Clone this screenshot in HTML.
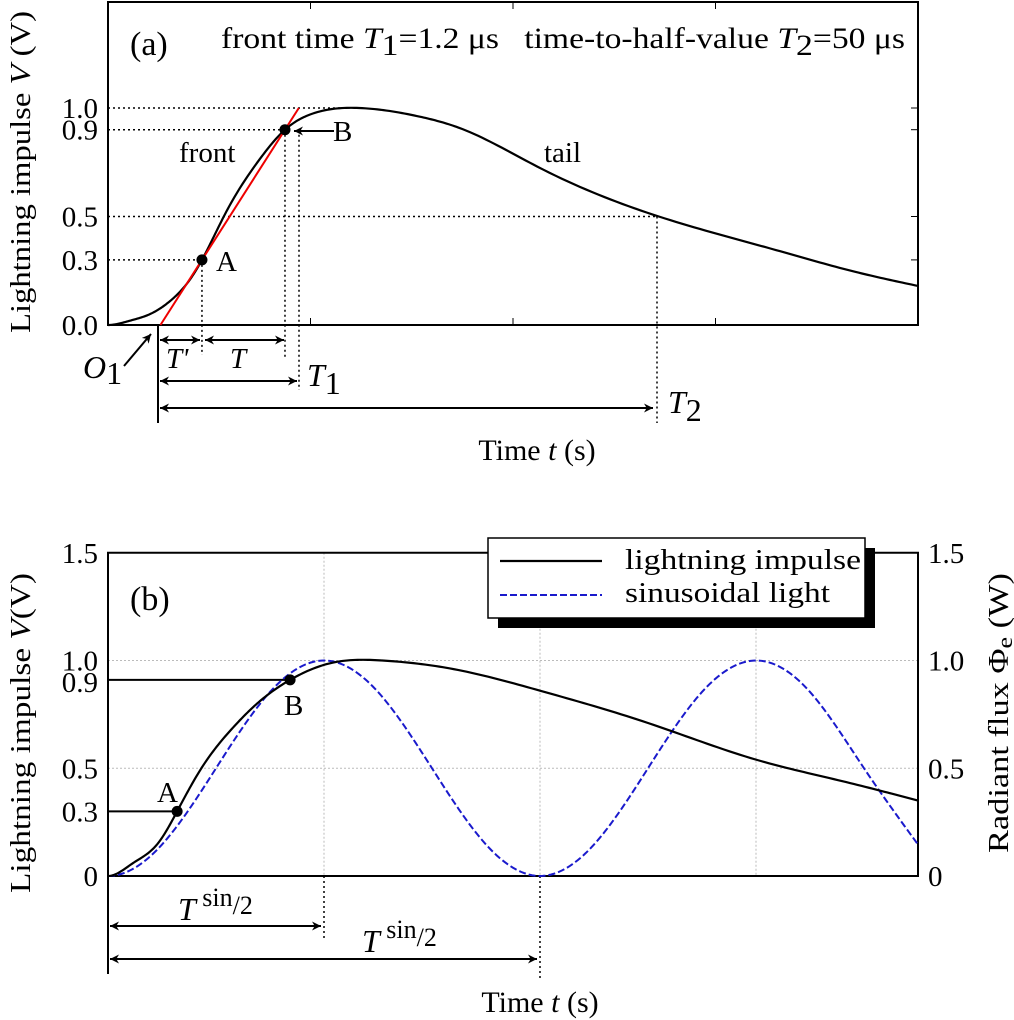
<!DOCTYPE html>
<html><head><meta charset="utf-8"><style>
html,body{margin:0;padding:0;background:#fff;}
svg{display:block;font-family:"Liberation Serif",serif;}
</style></head><body>
<svg id="fig" width="1014" height="1020" viewBox="0 0 1014 1020" xmlns="http://www.w3.org/2000/svg">
<defs>
<marker id="ah" viewBox="0 0 10 10" refX="10" refY="5" markerWidth="9" markerHeight="9" orient="auto-start-reverse" markerUnits="userSpaceOnUse"><path d="M0,0 L10,5 L0,10 L3,5 Z" fill="#000"/></marker>
</defs>
<g id="pa"></g>
<g id="pb"></g>
</svg>
<script>
// Panel (a) data
const aTime = [0,0.109,0.207,0.306,0.405,0.464,0.583,0.746,0.874,0.998,1.24,1.54,1.73,2.12,2.72,3.30,3.69,4.0];
const aVolt = [0,0.02,0.05,0.11,0.21,0.30,0.52,0.76,0.90,0.97,1.0,0.96,0.91,0.73,0.50,0.345,0.245,0.18];
const aIdxA = 5, aIdxB = 8;
const aTicksY = [0.0,0.3,0.5,0.9,1.0];
const aTickLabels = ["0.0","0.3","0.5","0.9","1.0"];
const aTicksX = [1,2,3];
// Panel (b) data
const bTime = [0,0.116,0.23,0.32,0.426,0.58,0.69,0.843,1.04,1.27,1.6,2.0,2.5,3.0,3.4,3.75];
const bVolt = [0,0.06,0.15,0.30,0.49,0.69,0.80,0.91,0.99,1.0,0.96,0.86,0.71,0.54,0.44,0.35];
const bIdxA = 3, bIdxB = 7;
const sinTime = [0,0.25,0.5,0.75,1,1.25,1.5,1.75,2,2.25,2.5,2.75,3,3.25,3.5,3.75];
const sinFlux = [0,0.146,0.5,0.854,1,0.854,0.5,0.146,0,0.146,0.5,0.854,1,0.854,0.5,0.146];
const bTicksY = [0,0.3,0.5,0.9,1.0,1.5];
const bTickLabels = ["0","0.3","0.5","0.9","1.0","1.5"];
const bRightTicks = [0,0.5,1.0,1.5];
const bRightLabels = ["0","0.5","1.0","1.5"];
const bGridX = [1,2,3];

const NS="http://www.w3.org/2000/svg";
function el(parent,tag,attrs,text){const e=document.createElementNS(NS,tag);for(const k in attrs)e.setAttribute(k,attrs[k]);if(text!==undefined)e.textContent=text;parent.appendChild(e);return e;}
// cubic spline: clamped slope 0 at start, natural at end
function interpPath(xs,ys,sx,sy){
  const n=xs.length,h=[],d=[];
  for(let i=0;i<n-1;i++){h.push(xs[i+1]-xs[i]);d.push((ys[i+1]-ys[i])/h[i]);}
  const a=new Array(n).fill(0),b=new Array(n).fill(0),c=new Array(n).fill(0),r=new Array(n).fill(0);
  b[0]=2*h[0];c[0]=h[0];r[0]=6*(d[0]-0);
  for(let i=1;i<n-1;i++){a[i]=h[i-1];b[i]=2*(h[i-1]+h[i]);c[i]=h[i];r[i]=6*(d[i]-d[i-1]);}
  b[n-1]=1;a[n-1]=0;r[n-1]=0;
  for(let i=1;i<n;i++){const w=a[i]/b[i-1];b[i]-=w*c[i-1];r[i]-=w*r[i-1];}
  const M=new Array(n);M[n-1]=r[n-1]/b[n-1];
  for(let i=n-2;i>=0;i--)M[i]=(r[i]-c[i]*M[i+1])/b[i];
  let p="";
  for(let i=0;i<n-1;i++){
    for(let k=0;k<=20;k++){
      if(i>0&&k==0)continue;
      const x=xs[i]+k/20*h[i],A=xs[i+1]-x,B=x-xs[i],hh=h[i];
      const y=M[i]*A*A*A/(6*hh)+M[i+1]*B*B*B/(6*hh)+(ys[i]/hh-M[i]*hh/6)*A+(ys[i+1]/hh-M[i+1]*hh/6)*B;
      p+=(p?"L":"M")+sx(x).toFixed(2)+","+sy(y).toFixed(2);
    }
  }
  return p;
}

// ---------- Panel A ----------
const pa=document.getElementById('pa');
const ax=t=>108+t*202.5, ay=v=>325-v*217;
let r=el(pa,'rect',{x:108,y:2,width:810,height:323,fill:'none',stroke:'#000','stroke-width':2});


aTicksX.forEach(t=>{el(pa,'line',{x1:ax(t),y1:325,x2:ax(t),y2:318,stroke:'#000','stroke-width':1});el(pa,'line',{x1:ax(t),y1:2,x2:ax(t),y2:9,stroke:'#000','stroke-width':1});});
aTicksY.forEach((v,i)=>{
 el(pa,'line',{x1:911,y1:ay(v),x2:918,y2:ay(v),stroke:'#000','stroke-width':1});
 const t=el(pa,'text',{x:98,y:ay(v)+10,'font-size':29,'text-anchor':'end'},aTickLabels[i]);
 
 
});
const tA=aTime[aIdxA],vA=aVolt[aIdxA],tB=aTime[aIdxB],vB=aVolt[aIdxB];
const dot={stroke:'#000','stroke-width':1.5,'stroke-dasharray':'2,3',fill:'none'};
el(pa,'line',Object.assign({x1:108,y1:ay(1),x2:352,y2:ay(1)},dot));
el(pa,'line',Object.assign({x1:108,y1:ay(vB),x2:ax(tB)-3,y2:ay(vB)},dot));
el(pa,'line',Object.assign({x1:108,y1:ay(0.5),x2:657,y2:ay(0.5)},dot));
el(pa,'line',Object.assign({x1:108,y1:ay(vA),x2:ax(tA)-3,y2:ay(vA)},dot));
el(pa,'line',Object.assign({x1:ax(tA),y1:ay(vA),x2:ax(tA),y2:355},dot));
el(pa,'line',Object.assign({x1:ax(tB),y1:ay(vB),x2:ax(tB),y2:357},dot));
el(pa,'line',Object.assign({x1:299,y1:ay(0.9),x2:299,y2:390},dot));
el(pa,'line',Object.assign({x1:657,y1:ay(0.5),x2:657,y2:423},dot));
let c=el(pa,'path',{d:interpPath(aTime,aVolt,ax,ay),fill:'none',stroke:'#000','stroke-width':2.2});


const sl=(vB-vA)/(tB-tA), t0=tA-vA/sl, t1=tA+(1-vA)/sl;
let rl=el(pa,'line',{x1:ax(t0),y1:ay(0),x2:ax(t1),y2:ay(1),stroke:'#e00','stroke-width':2});


el(pa,'circle',{cx:ax(tA),cy:ay(vA),r:5.5,fill:'#000'});
el(pa,'circle',{cx:ax(tB),cy:ay(vB),r:5.5,fill:'#000'});
el(pa,'line',{x1:158,y1:325,x2:158,y2:423,stroke:'#000','stroke-width':2});
const arr=(x1,y,x2)=>el(pa,'line',{x1:x1,y1:y,x2:x2,y2:y,stroke:'#000','stroke-width':2,'marker-end':'url(#ah)','marker-start':'url(#ah)'});
arr(160,340,200);arr(205,340,284);arr(160,381,297);arr(160,408,653);
el(pa,'line',{x1:124,y1:366,x2:151,y2:334,stroke:'#000','stroke-width':2,'marker-end':'url(#ah)'});
el(pa,'line',{x1:334,y1:131,x2:294,y2:131,stroke:'#000','stroke-width':2,'marker-end':'url(#ah)'});
const T=(p,x,y,s,txt,name,extra)=>{const t=el(p,'text',Object.assign({x:x,y:y,'font-size':s},extra||{}),txt);return t;};
T(pa,130,55,34,'(a)','panel-label-a');
let ht=T(pa,221,48,30,'','header-text',{textLength:684,lengthAdjust:'spacingAndGlyphs'});
ht.innerHTML='front time <tspan font-style="italic">T</tspan><tspan dy="7">1</tspan><tspan dy="-7">=1.2 μs&#160;&#160;&#160;time-to-half-value </tspan><tspan font-style="italic">T</tspan><tspan dy="7">2</tspan><tspan dy="-7">=50 μs</tspan>';
T(pa,179,162,29,'front','front-label');
T(pa,544,162,29,'tail','tail-label');
T(pa,216,271,29,'A','point-a-label');
T(pa,333,141,29,'B','point-b-label');
let o1=T(pa,83,378,32,'','o1-label');o1.innerHTML='<tspan font-style="italic">O</tspan><tspan dy="6">1</tspan>';
T(pa,166,368,29,"T'",'t-prime-label',{'font-style':'italic'});
T(pa,230,368,29,'T','t-label',{'font-style':'italic'});
let t1l=T(pa,307,386,32,'','t1-label');t1l.innerHTML='<tspan font-style="italic">T</tspan><tspan dy="8">1</tspan>';
let t2l=T(pa,668,413,32,'','t2-label');t2l.innerHTML='<tspan font-style="italic">T</tspan><tspan dy="8">2</tspan>';
let xa=T(pa,537,460,30,'','x-axis-title-a',{'text-anchor':'middle'});xa.innerHTML='Time <tspan font-style="italic">t</tspan> (s)';
let ya=T(pa,0,0,29,'','y-axis-title-a',{'text-anchor':'middle',transform:'translate(30,172) rotate(-90)',textLength:322,lengthAdjust:'spacingAndGlyphs'});ya.innerHTML='Lightning impulse <tspan font-style="italic">V</tspan> (V)';

// ---------- Panel B ----------
const pb=document.getElementById('pb');
const bx=t=>108+t*216, by=v=>876-v*215.5;
bGridX.forEach(t=>{const g=el(pb,'line',{x1:bx(t),y1:by(1.5),x2:bx(t),y2:876,stroke:'#bbb','stroke-width':1,'stroke-dasharray':'2,2'});});
[0.5,1.0].forEach(v=>el(pb,'line',{x1:108,y1:by(v),x2:918,y2:by(v),stroke:'#bbb','stroke-width':1,'stroke-dasharray':'2,2'}));
let rb=el(pb,'rect',{x:108,y:by(1.5),width:810,height:876-by(1.5),fill:'none',stroke:'#000','stroke-width':2});


bTicksY.forEach((v,i)=>{const t=el(pb,'text',{x:98,y:by(v)+10,'font-size':29,'text-anchor':'end'},bTickLabels[i]);});
bRightTicks.forEach((v,i)=>{const t=el(pb,'text',{x:928,y:by(v)+10,'font-size':29},bRightLabels[i]);});
const bA=bTime[bIdxA],bAV=bVolt[bIdxA],bB=bTime[bIdxB],bBV=bVolt[bIdxB];
el(pb,'line',{x1:108,y1:by(bAV),x2:bx(bA),y2:by(bAV),stroke:'#000','stroke-width':2});
el(pb,'line',{x1:108,y1:by(bBV),x2:bx(bB),y2:by(bBV),stroke:'#000','stroke-width':2});
el(pb,'line',{x1:bx(1),y1:876,x2:bx(1),y2:940,stroke:'#000','stroke-width':1.5,'stroke-dasharray':'2,3'});
el(pb,'line',{x1:bx(2),y1:876,x2:bx(2),y2:980,stroke:'#000','stroke-width':1.5,'stroke-dasharray':'2,3'});
el(pb,'line',{x1:108,y1:876,x2:108,y2:974,stroke:'#000','stroke-width':2});
const arrb=(x1,y,x2)=>el(pb,'line',{x1:x1,y1:y,x2:x2,y2:y,stroke:'#000','stroke-width':2,'marker-end':'url(#ah)','marker-start':'url(#ah)'});
arrb(110,926,bx(1)-3);arrb(110,959,bx(2)-3);
let sc=el(pb,'path',{d:interpPath(sinTime,sinFlux,bx,by),fill:'none',stroke:'#1a1acc','stroke-width':2,'stroke-dasharray':'7,3'});


let ic=el(pb,'path',{d:interpPath(bTime,bVolt,bx,by),fill:'none',stroke:'#000','stroke-width':2.2});


el(pb,'circle',{cx:bx(bA),cy:by(bAV),r:5.5,fill:'#000'});
el(pb,'circle',{cx:bx(bB),cy:by(bBV),r:5.5,fill:'#000'});
el(pb,'rect',{x:498,y:548,width:377,height:80,fill:'#000'});
let lg=el(pb,'rect',{x:488,y:538,width:377,height:80,fill:'#fff',stroke:'#000','stroke-width':1.5});


el(pb,'line',{x1:500,y1:561,x2:602,y2:561,stroke:'#000','stroke-width':2.2});
el(pb,'line',{x1:500,y1:595,x2:602,y2:595,stroke:'#1a1acc','stroke-width':2,'stroke-dasharray':'7,3'});
T(pb,625,569,29,'lightning impulse','legend-entry-impulse',{textLength:236,lengthAdjust:'spacingAndGlyphs'});
T(pb,625,602,29,'sinusoidal light','legend-entry-sinusoidal',{textLength:205,lengthAdjust:'spacingAndGlyphs'});
T(pb,130,610,34,'(b)','panel-label-b');
T(pb,157,802,29,'A','point-a-label-b');
T(pb,284,715,29,'B','point-b-label-b');
let s1=T(pb,178,920,32,'','t-sin-half-label-1');s1.innerHTML='<tspan font-style="italic">T</tspan><tspan dy="-14" font-size="26"> sin</tspan><tspan dy="8" font-size="26">/2</tspan>';
let s2=T(pb,362,952,32,'','t-sin-half-label-2');s2.innerHTML='<tspan font-style="italic">T</tspan><tspan dy="-14" font-size="26"> sin</tspan><tspan dy="8" font-size="26">/2</tspan>';
let xb=T(pb,540,1012,30,'','x-axis-title-b',{'text-anchor':'middle'});xb.innerHTML='Time <tspan font-style="italic">t</tspan> (s)';
let yb=T(pb,0,0,29,'','y-axis-title-b',{'text-anchor':'middle',transform:'translate(30,733) rotate(-90)',textLength:320,lengthAdjust:'spacingAndGlyphs'});yb.innerHTML='Lightning impulse <tspan font-style="italic">V</tspan>(V)';
let yr=T(pb,0,0,29,'','right-y-axis-title',{'text-anchor':'middle',transform:'translate(1008,713) rotate(-90)',textLength:280,lengthAdjust:'spacingAndGlyphs'});yr.innerHTML='Radiant flux Φ<tspan font-size="22" dy="4">e</tspan><tspan dy="-4"> (W)</tspan>';
</script>
</body></html>
